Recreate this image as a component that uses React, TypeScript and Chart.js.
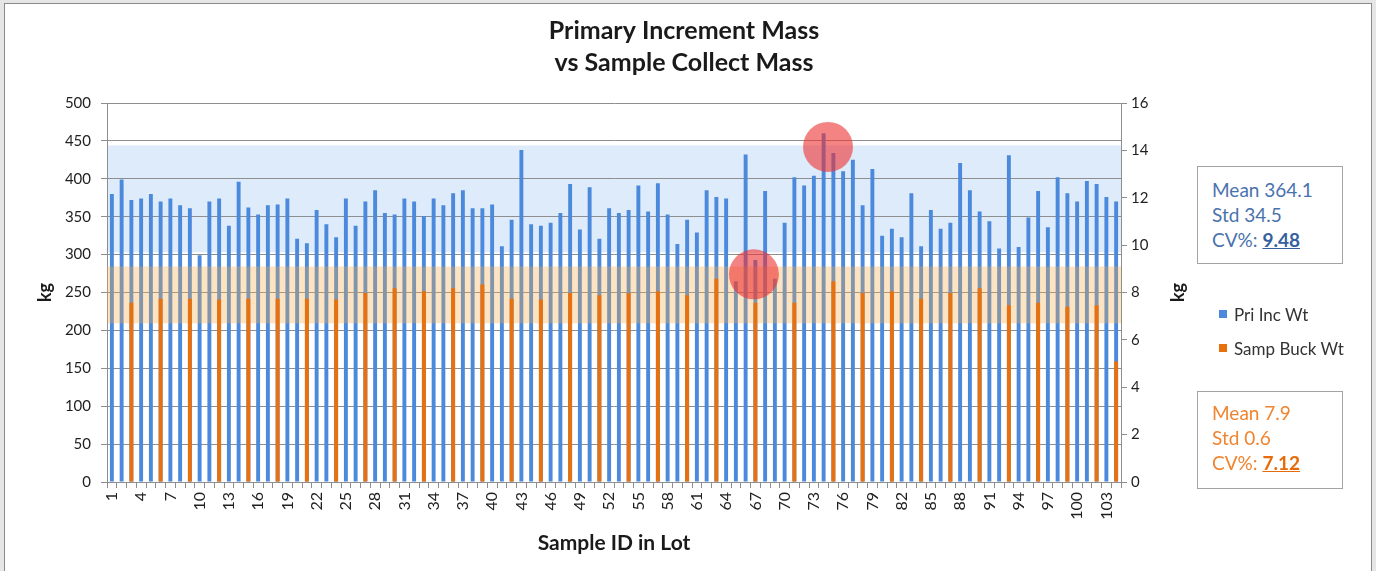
import React, { useEffect, useRef } from 'react';
import { Chart, registerables } from 'chart.js';

Chart.register(...registerables);

// ---------- DATA ----------
const sampleIds = [
  '1','2','3','4','5','6','7','8','9','10','11','12','13','14','15','16','17','18','19','20',
  '21','22','23','24','25','26','27','28','29','30','31','32','33','34','35','36','37','38','39','40',
  '41','42','43','44','45','46','47','48','49','50','51','52','53','54','55','56','57','58','59','60',
  '61','62','63','64','65','66','67','68','69','70','71','72','73','74','75','76','77','78','79','80',
  '81','82','83','84','85','86','87','88','89','90','91','92','93','94','95','96','97','98','99','100',
  '101','102','103','104'
];

const xTickLabels = [
  '1','4','7','10','13','16','19','22','25','28','31','34','37','40','43','46','49','52',
  '55','58','61','64','67','70','73','76','79','82','85','88','91','94','97','100','103'
];

const priIncWt = [
  380, 399, 372, 374, 380, 370, 374, 365, 361, 299,
  370, 374, 338, 396, 362, 353, 365, 366, 374, 321,
  315, 359, 340, 323, 374, 338, 370, 385, 355, 353,
  374, 370, 351, 374, 365, 381, 385, 361, 361, 366,
  311, 346, 438, 340, 338, 342, 355, 393, 333, 389,
  321, 361, 355, 359, 391, 357, 394, 353, 314, 346,
  329, 385, 376, 374, 265, 432, 293, 384, 268, 342,
  402, 391, 404, 460, 434, 410, 425, 365, 413, 325,
  334, 323, 381, 311, 359, 334, 342, 421, 385, 357,
  344, 308, 431, 310, 349, 384, 336, 402, 381, 370,
  397, 393, 376, 370
];

const sampBuckIds = [
  '3','6','9','12','15','18','21','24','27','30','33','36','39','42','45','48','51',
  '54','57','60','63','67','71','75','78','81','84','87','90','93','96','99','102','104'
];
const sampBuckWt = [
  7.57, 7.74, 7.74, 7.70, 7.74, 7.74, 7.74, 7.70, 7.98, 8.18, 8.05, 8.18, 8.34, 7.74, 7.70, 7.98, 7.88,
  7.98, 8.05, 7.88, 8.58, 7.57, 7.57, 8.47, 7.98, 8.05, 7.74, 7.98, 8.18, 7.46, 7.57, 7.40, 7.46, 5.09
];

// control bands (left axis kg, right axis kg)
const priBand = [303, 444];
const buckBand = [6.7, 9.1];

// highlighted spots: 1-based category position and left-axis value
const highlightCats = [74.45, 66.85];
const highlightVals = [442, 274];

const priStats = ['Mean 364.1', 'Std 34.5', '9.48'];
const buckStats = ['Mean 7.9', 'Std 0.6', '7.12'];

// ---------- STYLE ----------
const BLUE = '#4a89dc';
const ORANGE = '#e8700d';
const GRID = '#8e8e8e';
const FONT = 'Lato, "Open Sans", sans-serif';

const buckData = sampleIds.map((id) => {
  const k = sampBuckIds.indexOf(id);
  return k >= 0 ? sampBuckWt[k] : null;
});

const decorPlugin = {
  id: 'decor',
  beforeDraw(chart: any) {
    const { ctx, chartArea: ca, scales } = chart;
    const y = scales.y;
    const t = y.getPixelForValue(priBand[1]);
    const b = y.getPixelForValue(priBand[0]);
    ctx.save();
    ctx.fillStyle = '#deebfa';
    ctx.fillRect(ca.left, t, ca.right - ca.left, b - t);
    ctx.restore();
  },
  afterDatasetDraw(chart: any, args: any) {
    if (args.index !== 0) return;
    const { ctx, chartArea: ca, scales } = chart;
    const y1 = scales.y1;
    const t = y1.getPixelForValue(buckBand[1]);
    const b = y1.getPixelForValue(buckBand[0]);
    ctx.save();
    ctx.fillStyle = 'rgba(246,172,74,0.33)';
    ctx.fillRect(ca.left, t, ca.right - ca.left, b - t);
    ctx.restore();
  },
  afterDatasetsDraw(chart: any) {
    const { ctx, scales } = chart;
    ctx.save();
    ctx.fillStyle = 'rgba(236,48,48,0.6)';
    highlightCats.forEach((c, i) => {
      const px = scales.x.getPixelForValue(c - 1);
      const py = scales.y.getPixelForValue(highlightVals[i]);
      ctx.beginPath();
      ctx.arc(px, py, 25, 0, Math.PI * 2);
      ctx.fill();
    });
    ctx.restore();
  },
  afterDraw(chart: any) {
    const { ctx, chartArea: ca, width } = chart;
    const midY = (ca.top + ca.bottom) / 2;
    ctx.save();
    ctx.fillStyle = '#1a1a1a';
    ctx.textAlign = 'center';
    ctx.textBaseline = 'middle';
    ctx.font = `bold 25px ${FONT}`;
    ctx.fillText('Primary Increment Mass', width / 2 - 4, 31);
    ctx.fillText('vs Sample Collect Mass', width / 2 - 4, 63);
    ctx.font = `bold 21px ${FONT}`;
    ctx.fillText('Sample ID in Lot', (ca.left + ca.right) / 2, 543);
    ctx.font = `bold 18px ${FONT}`;
    [45, 1178].forEach((x) => {
      ctx.save();
      ctx.translate(x, midY);
      ctx.rotate(-Math.PI / 2);
      ctx.fillText('kg', 0, 0);
      ctx.restore();
    });
    ctx.restore();
  },
};

export default function App() {
  const ref = useRef<HTMLCanvasElement>(null);

  useEffect(() => {
    document.body.style.margin = '0';
    const tickFont = { family: FONT, size: 15 };
    const xTickFont = { family: FONT, size: 16 };
    const chart = new Chart(ref.current as HTMLCanvasElement, {
      type: 'bar',
      data: {
        labels: sampleIds,
        datasets: [
          {
            label: 'Pri Inc Wt',
            data: priIncWt,
            yAxisID: 'y',
            backgroundColor: BLUE,
            grouped: false,
            barPercentage: 0.4,
            categoryPercentage: 1,
            order: 2,
          } as any,
          {
            label: 'Samp Buck Wt',
            data: buckData,
            yAxisID: 'y1',
            backgroundColor: ORANGE,
            grouped: false,
            barPercentage: 0.4,
            categoryPercentage: 1,
            order: 1,
          } as any,
        ],
      },
      options: {
        responsive: false,
        animation: false,
        layout: { padding: { top: 103, left: 0, right: 0, bottom: 0 } },
        plugins: {
          legend: { display: false },
          title: { display: false },
          tooltip: { enabled: false },
        },
        scales: {
          x: {
            type: 'category',
            offset: true,
            grid: { display: true, drawOnChartArea: false, drawTicks: true, tickLength: 6, color: GRID, offset: true },
            border: { display: true, color: GRID },
            ticks: {
              autoSkip: false,
              minRotation: 90,
              maxRotation: 90,
              padding: 4,
              color: '#1f1f1f',
              font: xTickFont,
              callback: (_v: any, i: number) => (xTickLabels.includes(sampleIds[i]) ? sampleIds[i] : ''),
            },
            afterFit: (s: any) => { s.height = 89; },
          },
          y: {
            position: 'left',
            min: 0,
            max: 500,
            ticks: { stepSize: 50, padding: 10, color: '#1f1f1f', font: tickFont },
            grid: { color: GRID, tickLength: 6 },
            border: { display: true, color: GRID },
            afterFit: (s: any) => { s.width = 107; },
          },
          y1: {
            position: 'right',
            min: 0,
            max: 16,
            ticks: { stepSize: 2, padding: 4, color: '#1f1f1f', font: tickFont },
            grid: { drawOnChartArea: false, tickLength: 6, color: GRID },
            border: { display: true, color: GRID },
            afterFit: (s: any) => { s.width = 255; },
          },
        } as any,
      },
      plugins: [decorPlugin],
    });
    return () => chart.destroy();
  }, []);

  const boxBase: React.CSSProperties = {
    position: 'absolute',
    left: 1197,
    width: 146,
    height: 98,
    boxSizing: 'border-box',
    border: '1px solid #a3a3a3',
    background: '#fff',
    paddingLeft: 14,
    fontFamily: FONT,
    fontSize: 19,
    lineHeight: '25px',
    whiteSpace: 'nowrap',
  };

  const legendItem = (label: string, color: string, cy: number) => (
    <div style={{ position: 'absolute', left: 1219, top: cy - 12, height: 24, display: 'flex', alignItems: 'center', fontFamily: FONT, fontSize: 17, color: '#333' }}>
      <span style={{ display: 'inline-block', width: 8, height: 8, background: color, marginRight: 7 }} />
      <span>{label}</span>
    </div>
  );

  return (
    <div style={{ position: 'relative', width: 1376, height: 571, overflow: 'hidden', background: '#e6e6e6' }}>
      <div style={{ position: 'absolute', left: 4, top: 3, width: 1368, height: 600, background: '#fff', border: '1px solid #8a8a8a', boxSizing: 'border-box' }} />
      <canvas ref={ref} width={1376} height={571} style={{ position: 'absolute', left: 0, top: 0, width: 1376, height: 571 }} />
      <div style={{ ...boxBase, top: 166, paddingTop: 10, color: '#4a72ad' }}>
        <div>{priStats[0]}</div>
        <div>{priStats[1]}</div>
        <div>CV%: <b style={{ textDecoration: 'underline', color: '#35609e' }}>{priStats[2]}</b></div>
      </div>
      {legendItem('Pri Inc Wt', BLUE, 314)}
      {legendItem('Samp Buck Wt', ORANGE, 348)}
      <div style={{ ...boxBase, top: 391, paddingTop: 8, color: '#f0842f' }}>
        <div>{buckStats[0]}</div>
        <div>{buckStats[1]}</div>
        <div>CV%: <b style={{ textDecoration: 'underline', color: '#e46c0a' }}>{buckStats[2]}</b></div>
      </div>
    </div>
  );
}
